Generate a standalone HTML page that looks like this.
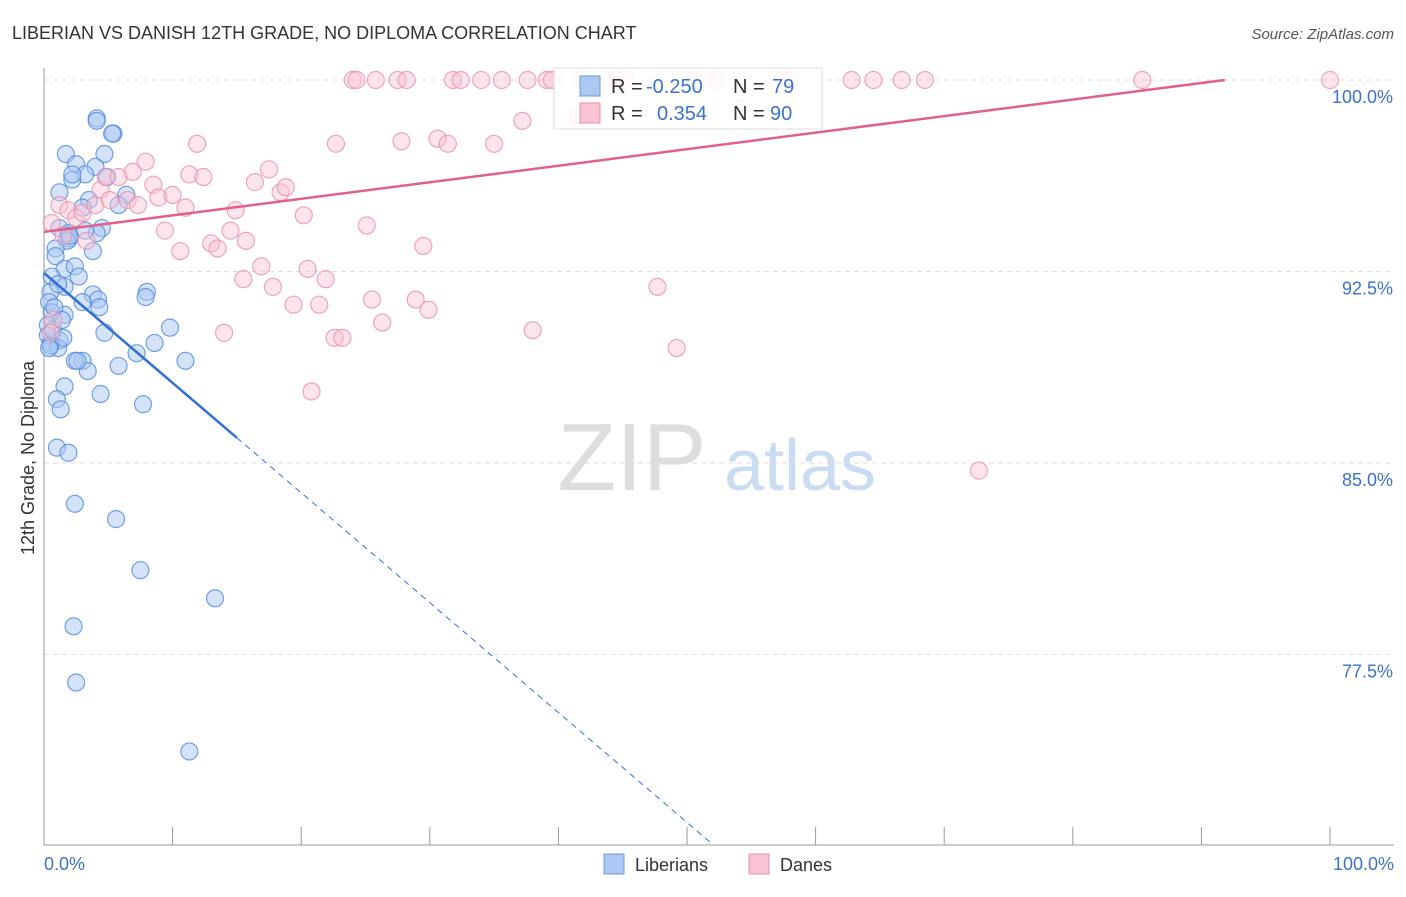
<!DOCTYPE html>
<html><head><meta charset="utf-8"><style>
body{margin:0;background:#fff;font-family:"Liberation Sans",sans-serif;}
svg text{font-family:"Liberation Sans",sans-serif;}
</style></head><body>
<svg id="chart" width="1406" height="892" xmlns="http://www.w3.org/2000/svg">
<text x="12" y="39" font-size="18" fill="#333">LIBERIAN VS DANISH 12TH GRADE, NO DIPLOMA CORRELATION CHART</text>
<text x="1394" y="39" font-size="15" fill="#555" text-anchor="end" font-style="italic">Source: ZipAtlas.com</text>
<text transform="translate(34,458) rotate(-90)" font-size="18" fill="#333" text-anchor="middle">12th Grade, No Diploma</text>
<g>
<text x="632" y="490" font-size="96" fill="#ddd" text-anchor="middle" font-family="Liberation Serif,serif">ZIP</text>
<text x="800" y="490" font-size="72" fill="#c9dcf3" text-anchor="middle">atlas</text>
</g>
<g id="grid"></g><g id="axes"></g><g id="pts"></g><g id="lines"></g>
<g>
<rect x="554" y="68" width="268" height="61" fill="#fff" fill-opacity="0.85" stroke="#ddd"/>
<rect x="580" y="76" width="20" height="20" fill="#aac8f2" stroke="#6a9de0"/>
<text x="611" y="93" font-size="20" fill="#333">R = </text><text x="646" y="93" font-size="20" fill="#3a72cf">-0.250</text>
<text x="733" y="93" font-size="20" fill="#333">N = </text><text x="772" y="93" font-size="20" fill="#3a72cf">79</text>
<rect x="580" y="103" width="20" height="20" fill="#f8c4d4" stroke="#e890aa"/>
<text x="611" y="120" font-size="20" fill="#333">R = </text><text x="657" y="120" font-size="20" fill="#3a72cf">0.354</text>
<text x="733" y="120" font-size="20" fill="#333">N = </text><text x="770" y="120" font-size="20" fill="#3a72cf">90</text>
</g>
<g>
<rect x="604" y="854" width="20" height="20" fill="#aac8f2" stroke="#6a9de0"/>
<text x="635" y="871" font-size="18" fill="#333">Liberians</text>
<rect x="749" y="854" width="20" height="20" fill="#f8c4d4" stroke="#e890aa"/>
<text x="780" y="871" font-size="18" fill="#333">Danes</text>
</g>
</svg>
<script>
const yTicks=[100,92.5,85,77.5];
const yTickLabels=["100.0%","92.5%","85.0%","77.5%"];
const xTickLabels=["0.0%","100.0%"];
const blueX=[4.1,4.1,5.4,5.3,1.7,4.7,2.5,4.0,3.2,2.2,4.9,1.2,6.4,3.5,5.8,3.0,1.2,4.5,1.9,2.0,1.8,4.1,0.9,3.8,0.9,1.6,2.4,2.7,0.6,1.6,0.5,3.8,4.2,8.0,7.9,0.4,3.0,4.3,0.6,1.6,9.8,0.3,4.7,1.2,0.5,1.1,8.6,7.2,3.0,11.0,2.4,5.8,3.4,1.6,4.4,1.0,7.7,1.3,1.0,1.9,2.4,5.6,7.5,13.3,2.3,2.5,11.3,0.3,0.5,0.7,1.5,2.0,3.2,0.8,2.6,1.4,0.4,1.1,2.2];
const blueY=[98.5,98.4,97.9,97.9,97.1,97.1,96.7,96.6,96.3,96.1,96.2,95.6,95.5,95.3,95.1,95.0,94.2,94.2,94.0,93.8,93.7,94.0,93.4,93.3,93.1,92.6,92.7,92.3,92.3,91.9,91.7,91.6,91.4,91.7,91.5,91.3,91.3,91.1,90.9,90.8,90.3,90.4,90.1,89.8,89.7,89.5,89.7,89.3,89.0,89.0,89.0,88.8,88.6,88.0,87.7,87.5,87.3,87.1,85.6,85.4,83.4,82.8,80.8,79.7,78.6,76.4,73.7,90.0,89.6,90.2,89.9,93.9,94.1,91.1,89.0,90.6,89.5,92.0,96.3];
const pinkX=[0.6,1.2,1.9,2.5,3.0,4.0,4.4,4.8,5.8,5.1,6.5,7.3,6.9,7.9,8.5,8.9,10.0,11.0,9.4,10.6,11.9,11.3,12.4,13.0,13.5,14.0,14.5,14.9,15.7,15.5,16.4,16.9,17.5,17.8,18.4,18.8,19.4,20.2,20.5,21.4,21.9,20.8,22.6,22.7,23.2,24.0,24.3,25.1,25.5,26.3,25.8,27.5,27.8,28.2,28.9,29.9,29.5,30.6,31.4,31.8,32.4,34.0,35.0,35.6,37.2,37.6,38.0,39.1,39.5,41.5,41.8,44.6,45.2,47.7,49.2,50.6,52.4,54.1,58.0,62.8,64.5,66.7,68.5,72.7,85.4,100,0.7,0.5,1.5,3.3];
const pinkY=[94.4,95.1,94.9,94.6,94.8,95.1,95.7,96.2,96.2,95.3,95.3,95.1,96.4,96.8,95.9,95.4,95.5,95.0,94.1,93.3,97.5,96.3,96.2,93.6,93.4,90.1,94.1,94.9,93.7,92.2,96.0,92.7,96.5,91.9,95.6,95.8,91.2,94.7,92.6,91.2,92.2,87.8,89.9,97.5,89.9,100,100,94.3,91.4,90.5,100,100,97.6,100,91.4,91.0,93.5,97.7,97.5,100,100,100,97.5,100,98.4,100,90.2,100,100,98.6,100,100,100,91.9,89.5,100,100,98.9,100,100,100,100,100,84.7,100,100,90.6,90.1,93.9,93.7];
const blueFit=[92.44,49.4];
const pinkFit=[94.05,100.53];
const NS="http://www.w3.org/2000/svg";
const X0=44,X1=1330;
const sx=v=>X0+(X1-X0)*v/100;
const sy=v=>80+(100-v)*25.53;
function mk(tag,parent,attrs){const e=document.createElementNS(NS,tag);for(const k in attrs)e.setAttribute(k,attrs[k]);document.getElementById(parent).appendChild(e);return e;}
yTicks.forEach((t,i)=>{
 const l=mk('line','grid',{x1:44,x2:1394,y1:sy(t),y2:sy(t),stroke:'#ddd','stroke-dasharray':'5,4'});
 
 
 const tx=mk('text','grid',{x:1393,y:sy(t)+23,'font-size':18,fill:'#3a72cf','text-anchor':'end'});
 tx.textContent=yTickLabels[i];
 
 
});
const ax=mk('line','axes',{x1:44,x2:44,y1:68,y2:845,stroke:'#999'});


const bx=mk('line','axes',{x1:44,x2:1394,y1:845,y2:845,stroke:'#999'});


for(let i=0;i<=10;i++){
 const t=mk('line','axes',{x1:sx(i*10),x2:sx(i*10),y1:827,y2:845,stroke:'#999'});
 
 
}
[[0,'start',44],[100,'end',1394]].forEach((d,i)=>{
 const t=mk('text','axes',{x:d[2],y:870,'font-size':18,fill:'#3a72cf','text-anchor':d[1]});
 t.textContent=xTickLabels[i];
 
 
});
blueX.forEach((x,i)=>{
 const c=mk('circle','pts',{cx:sx(x),cy:sy(blueY[i]),r:8.5,fill:'#a9c8f2','fill-opacity':0.5,stroke:'#4f8ae0','stroke-width':1.2,'stroke-opacity':0.8});
 
 
});
pinkX.forEach((x,i)=>{
 const c=mk('circle','pts',{cx:sx(x),cy:sy(pinkY[i]),r:8.5,fill:'#f8c4d4','fill-opacity':0.45,stroke:'#e890aa','stroke-width':1.2,'stroke-opacity':0.8});
 
 
});
const bAt=x=>blueFit[0]+(blueFit[1]-blueFit[0])*x/100;
const b1=mk('line','lines',{x1:sx(0),y1:sy(bAt(0)),x2:sx(15),y2:sy(bAt(15)),stroke:'#2f6fd6','stroke-width':2.5});


const xe=51.8;
const b2=mk('line','lines',{x1:sx(15),y1:sy(bAt(15)),x2:sx(xe),y2:sy(bAt(xe)),stroke:'#2f6fd6','stroke-width':1,'stroke-dasharray':'6,5'});


const pAt=x=>pinkFit[0]+(pinkFit[1]-pinkFit[0])*x/100;
const xc=(100-pinkFit[0])/(pinkFit[1]-pinkFit[0])*100;
const p1=mk('line','lines',{x1:sx(0),y1:sy(pAt(0)),x2:sx(xc),y2:sy(100),stroke:'#e0608a','stroke-width':2.5});


</script>
</body></html>
